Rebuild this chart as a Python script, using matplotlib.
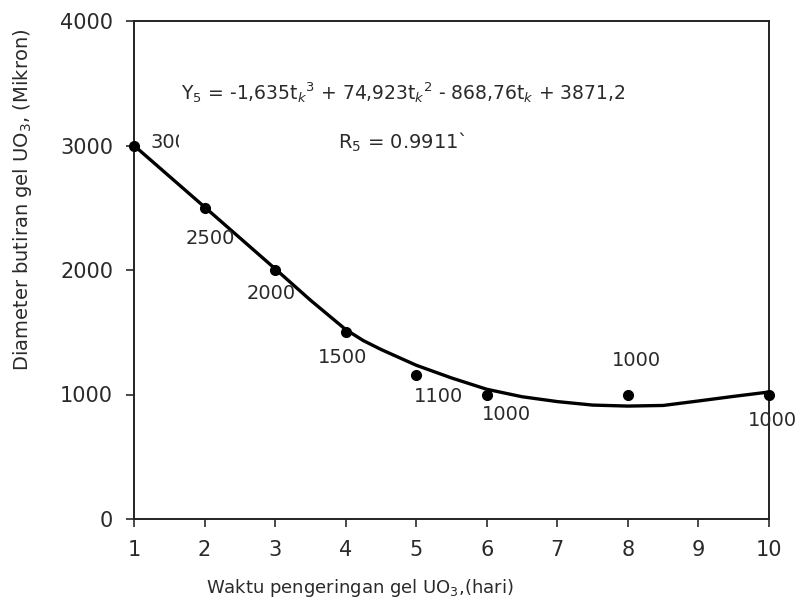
import numpy as np
import matplotlib
matplotlib.use('Agg')
import matplotlib.pyplot as plt
from matplotlib.transforms import Bbox, TransformedBbox

plt.rcParams['font.family'] = ['DejaVu Sans']
plt.rcParams['mathtext.fontset'] = 'dejavusans'

# data titik
waktu = [1, 2, 3, 4, 5, 6, 8, 10]
diameter = [3000, 2500, 2000, 1500, 1160, 1000, 1000, 1000]
label_teks = ['3000', '2500', '2000', '1500', '1100', '1000', '1000', '1000']
label_x = [1.23, 2.08, 2.95, 3.96, 5.31, 6.28, 8.12, 10.05]
label_y = [3028, 2257, 1815, 1301, 980, 843, 1277, 795]

# kurva tren
tren_x = [1, 2, 3, 3.5, 4, 4.25, 4.5, 5, 5.5, 6, 6.5, 7, 7.5, 8, 8.5, 9, 9.5, 10]
tren_y = [3000, 2506, 2010, 1758, 1522, 1433, 1362, 1235, 1133, 1042, 982, 943, 915, 907, 912, 948, 985, 1020]

warna_teks = '#2a2a2a'

fig = plt.figure(figsize=(8.03, 6.13), dpi=100)
ax = fig.add_axes([134/803, 1 - 519/613, (769 - 134)/803, (519 - 21)/613])

ax.plot(tren_x, tren_y, color='black', linewidth=2.4, solid_joinstyle='round',
        solid_capstyle='round', zorder=2)
ax.plot(waktu, diameter, 'o', color='black', markersize=7, zorder=3, clip_on=False)

# label data
for i, (xx, yy, s) in enumerate(zip(label_x, label_y, label_teks)):
    if i == 0:
        txt = ax.text(xx, yy, s, fontsize=14, ha='left', va='center', color=warna_teks)
        # label pertama terpotong di grafik asli
        kotak = TransformedBbox(Bbox([[1.0, 2800], [1.64, 3300]]), ax.transData)
        txt.set_clip_box(kotak)
        txt.set_clip_on(True)
    else:
        ax.text(xx, yy, s, fontsize=14, ha='center', va='center', color=warna_teks)

ax.text(4.81, 3422, r'Y$_5$ = -1,635t$_k$$^3$ + 74,923t$_k$$^2$ - 868,76t$_k$ + 3871,2',
        fontsize=13.5, ha='center', va='center', color=warna_teks)
ax.text(4.80, 3028, r'R$_5$ = 0.9911`', fontsize=14, ha='center', va='center', color=warna_teks)

ax.set_xlim(1, 10)
ax.set_ylim(0, 4000)
ax.set_xticks(range(1, 11))
ax.set_yticks([0, 1000, 2000, 3000, 4000])
ax.tick_params(axis='both', direction='out', length=6, width=1.2, labelsize=15,
               colors=warna_teks, pad=9)
for sp in ax.spines.values():
    sp.set_linewidth(1.4)
    sp.set_color('#222222')

fig.text(360/803, 1 - 588/613, r'Waktu pengeringan gel UO$_3$,(hari)', fontsize=13,
         ha='center', va='center', color=warna_teks)
fig.text(23/803, 1 - 200/613, r'Diameter butiran gel UO$_3$, (Mikron)', fontsize=14,
         ha='center', va='center', rotation=90, color=warna_teks)

fig.savefig('out.png', dpi=100)
